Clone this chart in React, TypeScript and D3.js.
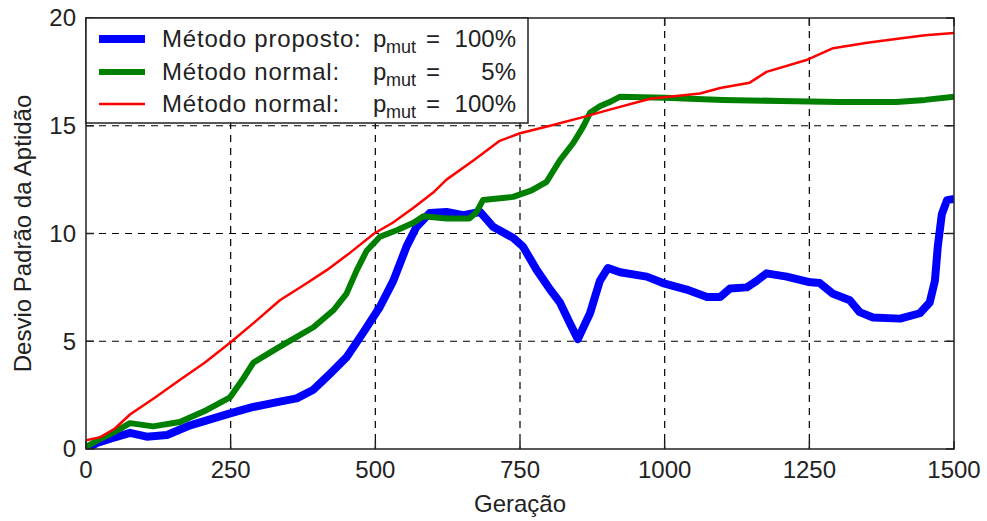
import React from "react";
import * as d3 from "d3";

// Generation (x) and fitness standard deviation (y) per method
const proposedGen = [0, 19, 45, 76, 105, 140, 180, 249, 289, 335, 364, 393, 422, 450, 479, 508, 531, 554, 571, 594, 623, 652, 681, 704, 738, 755, 779, 802, 819, 836, 850, 871, 888, 902, 923, 969, 997, 1038, 1073, 1096, 1113, 1142, 1159, 1176, 1211, 1248, 1268, 1291, 1320, 1337, 1360, 1407, 1441, 1458, 1467, 1472, 1479, 1488, 1500];
const proposedStd = [0, 0.28, 0.5, 0.75, 0.57, 0.65, 1.1, 1.65, 1.95, 2.2, 2.35, 2.75, 3.5, 4.25, 5.4, 6.6, 7.8, 9.4, 10.3, 10.95, 11.0, 10.85, 11.0, 10.3, 9.8, 9.4, 8.3, 7.4, 6.8, 5.85, 5.1, 6.3, 7.8, 8.4, 8.2, 8.0, 7.7, 7.4, 7.05, 7.05, 7.45, 7.5, 7.8, 8.15, 8.0, 7.75, 7.7, 7.2, 6.9, 6.35, 6.1, 6.05, 6.3, 6.8, 7.8, 9.4, 10.9, 11.55, 11.6];

const normal5Gen = [0, 20, 50, 76, 116, 162, 208, 249, 270, 289, 335, 393, 428, 450, 468, 485, 508, 537, 566, 583, 623, 663, 675, 686, 738, 770, 796, 819, 842, 859, 871, 888, 905, 923, 1000, 1100, 1200, 1300, 1400, 1450, 1500];
const normal5Std = [0.1, 0.4, 0.8, 1.2, 1.05, 1.25, 1.8, 2.4, 3.2, 4.0, 4.75, 5.65, 6.45, 7.2, 8.3, 9.2, 9.85, 10.15, 10.5, 10.8, 10.7, 10.7, 11.0, 11.55, 11.7, 12.0, 12.4, 13.4, 14.2, 14.95, 15.6, 15.9, 16.1, 16.35, 16.3, 16.2, 16.15, 16.1, 16.1, 16.2, 16.35];

const normal100Gen = [0, 25, 50, 76, 120, 162, 205, 250, 292, 335, 376, 416, 456, 498, 530, 566, 600, 623, 670, 715, 750, 802, 859, 905, 975, 1061, 1096, 1147, 1176, 1245, 1291, 1350, 1406, 1450, 1500];
const normal100Std = [0.4, 0.55, 0.95, 1.6, 2.4, 3.2, 4.0, 4.95, 5.9, 6.9, 7.6, 8.3, 9.1, 10.0, 10.5, 11.2, 11.9, 12.5, 13.4, 14.3, 14.65, 15.0, 15.4, 15.75, 16.25, 16.5, 16.75, 17.0, 17.5, 18.05, 18.6, 18.85, 19.05, 19.2, 19.3];

const xTicks = [0, 250, 500, 750, 1000, 1250, 1500];
const yTicks = [0, 5, 10, 15, 20];

const legendNames = ["Método proposto:", "Método normal:", "Método normal:"];
const legendValues = ["100%", "5%", "100%"];

const series = [
  { gen: proposedGen, std: proposedStd, color: "#0000ff", width: 8 },
  { gen: normal5Gen, std: normal5Std, color: "#008000", width: 6 },
  { gen: normal100Gen, std: normal100Std, color: "#ff0000", width: 2.5 },
];

const W = 987;
const H = 521;
const left = 86;
const right = 954;
const top = 18;
const bottom = 449;
const FONT = "'Liberation Sans', Arial, sans-serif";
const TEXT = "#222";

export default function App() {
  const x = d3.scaleLinear().domain([0, 1500]).range([left, right]);
  const y = d3.scaleLinear().domain([0, 20]).range([bottom, top]);
  const line = d3
    .line<[number, number]>()
    .x((d) => x(d[0]))
    .y((d) => y(d[1]));

  const tickLen = 8;
  const legend = { x0: 86, y0: 18, x1: 528, y1: 123 };
  const rowBase = [47, 80, 112];

  return (
    <svg
      width={W}
      height={H}
      style={{ position: "absolute", left: 0, top: 0, background: "#fff" }}
      fontFamily={FONT}
    >
      <defs>
        <clipPath id="plot-clip">
          <rect x={left} y={top} width={right - left} height={bottom - top} />
        </clipPath>
      </defs>
      <rect x={0} y={0} width={W} height={H} fill="#fff" />

      {/* dashed grid */}
      {xTicks.slice(1, -1).map((t) => (
        <line key={"gx" + t} x1={x(t)} x2={x(t)} y1={top} y2={bottom} stroke="#000" strokeWidth={1.2} strokeDasharray="7,6" />
      ))}
      {yTicks.slice(1, -1).map((t) => (
        <line key={"gy" + t} x1={left} x2={right} y1={y(t)} y2={y(t)} stroke="#000" strokeWidth={1.2} strokeDasharray="7,6" />
      ))}

      {/* series */}
      <g clipPath="url(#plot-clip)">
        {series.map((s, i) => (
          <path
            key={i}
            d={line(s.gen.map((g, j) => [g, s.std[j]] as [number, number])) || ""}
            fill="none"
            stroke={s.color}
            strokeWidth={s.width}
            strokeLinejoin="round"
            strokeLinecap="butt"
          />
        ))}
      </g>

      {/* axes box and inward ticks */}
      <rect x={left} y={top} width={right - left} height={bottom - top} fill="none" stroke="#222" strokeWidth={1.5} />
      {xTicks.map((t) => (
        <g key={"tx" + t}>
          <line x1={x(t)} x2={x(t)} y1={bottom} y2={bottom - tickLen} stroke="#222" strokeWidth={1.5} />
          <line x1={x(t)} x2={x(t)} y1={top} y2={top + tickLen} stroke="#222" strokeWidth={1.5} />
          <text x={x(t)} y={478} textAnchor="middle" fontSize={24} fill={TEXT}>
            {t}
          </text>
        </g>
      ))}
      {yTicks.map((t) => (
        <g key={"ty" + t}>
          <line x1={left} x2={left + tickLen} y1={y(t)} y2={y(t)} stroke="#222" strokeWidth={1.5} />
          <line x1={right} x2={right - tickLen} y1={y(t)} y2={y(t)} stroke="#222" strokeWidth={1.5} />
          <text x={76} y={y(t)} dy="0.35em" textAnchor="end" fontSize={24} fill={TEXT}>
            {t}
          </text>
        </g>
      ))}

      {/* axis titles */}
      <text x={(left + right) / 2} y={512} textAnchor="middle" fontSize={24} fill={TEXT}>
        Geração
      </text>
      <text
        transform={`translate(31, ${(top + bottom) / 2}) rotate(-90)`}
        textAnchor="middle"
        fontSize={24}
        fill={TEXT}
      >
        Desvio Padrão da Aptidão
      </text>

      {/* legend */}
      <rect
        x={legend.x0}
        y={legend.y0}
        width={legend.x1 - legend.x0}
        height={legend.y1 - legend.y0}
        fill="#fff"
        stroke="#222"
        strokeWidth={1.5}
      />
      {series.map((s, i) => (
        <g key={"lg" + i}>
          <line x1={99} x2={145} y1={rowBase[i] - 8} y2={rowBase[i] - 8} stroke={s.color} strokeWidth={s.width} />
          <text x={162} y={rowBase[i]} fontSize={24} letterSpacing={0.8} fill={TEXT}>
            {legendNames[i]}
          </text>
          <text x={373} y={rowBase[i]} fontSize={24} fill={TEXT}>
            p
          </text>
          <text x={386} y={rowBase[i] + 6} fontSize={18} fill={TEXT}>
            mut
          </text>
          <text x={426} y={rowBase[i]} fontSize={24} fill={TEXT}>
            =
          </text>
          <text x={516} y={rowBase[i]} textAnchor="end" fontSize={24} fill={TEXT}>
            {legendValues[i]}
          </text>
        </g>
      ))}
    </svg>
  );
}
